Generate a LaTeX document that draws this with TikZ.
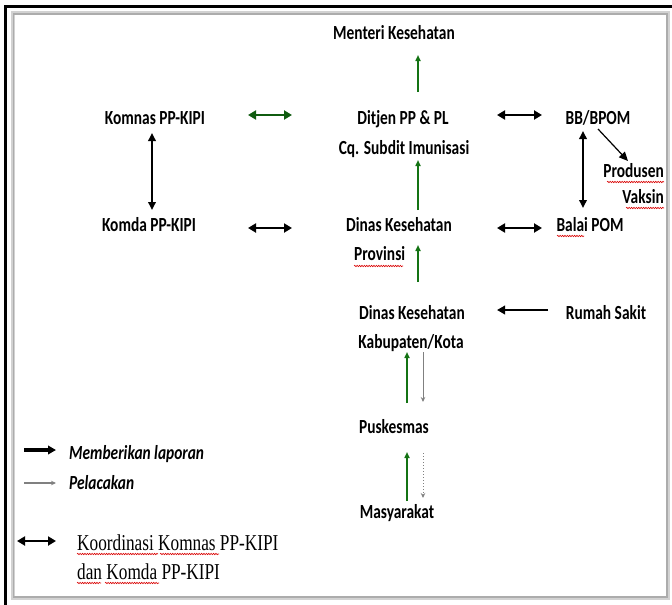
\documentclass[tikz,border=0pt]{standalone}
\usepackage{fontspec}
\setmainfont{Carlito}[FakeStretch=0.77]
\newfontfamily\timesf{Liberation Serif}[FakeStretch=0.76]
\usetikzlibrary{arrows.meta,decorations.pathmorphing}
\definecolor{arrgreen}{RGB}{20,115,20}
\tikzset{
  lbl/.style={inner sep=0pt, anchor=base, font=\fontsize{20}{24}\selectfont\bfseries},
  lblL/.style={lbl, anchor=base west},
  lblR/.style={lbl, anchor=base east},
  leg/.style={inner sep=0pt, anchor=base west, font=\fontsize{20}{24}\selectfont\bfseries\itshape},
  legT/.style={inner sep=0pt, anchor=base west, font=\fontsize{22.7}{26}\selectfont\timesf},
  greenup/.style={draw=arrgreen, line width=1.6pt, -{Triangle[length=6pt,width=5pt]}},
  grayarr/.style={draw=gray, line width=1pt, -{Stealth[length=5pt,width=4.5pt]}},
  dbl/.style={draw=black, line width=2.8pt, {Triangle[length=8pt,width=9pt]}-{Triangle[length=8pt,width=9pt]}},
  dblg/.style={draw=arrgreen!80!black, line width=2.6pt, {Triangle[length=8pt,width=9pt]}-{Triangle[length=8pt,width=9pt]}},
  vdbl/.style={draw=black, line width=1.8pt, {Triangle[length=8pt,width=7.5pt]}-{Triangle[length=8pt,width=7.5pt]}},
  report/.style={draw=black, line width=2.8pt, -{Triangle[length=8pt,width=8.5pt]}},
  squig/.style={draw=red!85!black, line width=0.6pt, decorate, decoration={snake, amplitude=0.7pt, segment length=2.4pt}}
}
\begin{document}
\begin{tikzpicture}[x=1pt,y={(0pt,-1pt)}]
\useasboundingbox (0,0) rectangle (672,605);
% frame
\draw[gray!35, line width=4pt] (12.5,13) rectangle (668,598);
\draw[gray!65, line width=1.4pt] (13.5,14) rectangle (667,597);
\draw[black, line width=3pt] (5.5,605) -- (5.5,6.5) -- (672,6.5);

% nodes
\node[lbl] (menteri) at (394,39.5) {Menteri Kesehatan};
\node[lbl] (komnas) at (155,124.5) {Komnas PP-KIPI};
\node[lbl] (ditjenA) at (403,124.5) {Ditjen PP \& PL};
\node[lbl] (ditjenB) at (404,154.5) {Cq. Subdit Imunisasi};
\node[lbl] (bbpom) at (598,124.5) {BB/BPOM};
\node[lblR] (produsen) at (664,177.5) {Produsen};
\node[lblR] (vaksin) at (664,203.5) {Vaksin};
\node[lbl] (komda) at (149,231.5) {Komda PP-KIPI};
\node[lbl] (provA) at (399,231.5) {Dinas Kesehatan};
\node[lblL] (provB) at (354,260.5) {Provinsi};
\node[lbl] (balai) at (590,231.5) {Balai POM};
\node[lbl] (kabA) at (412,319.5) {Dinas Kesehatan};
\node[lbl] (kabB) at (411,348.5) {Kabupaten/Kota};
\node[lbl] (rumah) at (606,319.5) {Rumah Sakit};
\node[lbl] (puskesmas) at (394,433.5) {Puskesmas};
\node[lbl] (masyarakat) at (397,518.5) {Masyarakat};

% legend text
\node[leg] (legA) at (69,459.5) {Memberikan laporan};
\node[leg] (legB) at (69,489.5) {Pelacakan};
\node[legT] (legC) at (77,550.5) {Koordinasi Komnas PP-KIPI};
\node[legT] (legD) at (77,579.5) {dan Komda PP-KIPI};

% connector end points
\coordinate (g1s) at (418,92);  \coordinate (g1e) at (418,55);
\coordinate (g2s) at (418,210); \coordinate (g2e) at (418,160);
\coordinate (g3s) at (418,282); \coordinate (g3e) at (418,245);
\coordinate (g4s) at (407,403); \coordinate (g4e) at (407,352);
\coordinate (g5s) at (407,501); \coordinate (g5e) at (407,452);
\coordinate (p1s) at (423,352); \coordinate (p1e) at (423,402);
\coordinate (p2s) at (423,453); \coordinate (p2e) at (423,498);
\coordinate (h1s) at (248,115); \coordinate (h1e) at (292,115);
\coordinate (h2s) at (497,115); \coordinate (h2e) at (542,115);
\coordinate (h3s) at (248,228); \coordinate (h3e) at (292,228);
\coordinate (h4s) at (497,228); \coordinate (h4e) at (542,228);
\coordinate (v1s) at (152,133); \coordinate (v1e) at (152,210);
\coordinate (v2s) at (583,131); \coordinate (v2e) at (583,208);
\coordinate (bps) at (598,129); \coordinate (bpe) at (628,161);
\coordinate (rss) at (548,310); \coordinate (rse) at (497,310);
\coordinate (l1s) at (24,450);  \coordinate (l1e) at (56,450);
\coordinate (l2s) at (24,483);  \coordinate (l2e) at (56,483);
\coordinate (l3s) at (17,541);  \coordinate (l3e) at (56,541);

% connectors
\draw[greenup] (g1s) -- (g1e);
\draw[greenup] (g2s) -- (g2e);
\draw[greenup] (g3s) -- (g3e);
\draw[greenup] (g4s) -- (g4e);
\draw[greenup] (g5s) -- (g5e);
\draw[grayarr] (p1s) -- (p1e);
\draw[grayarr, dotted] (p2s) -- (p2e);
\draw[dblg] (h1s) -- (h1e);
\draw[dbl] (h2s) -- (h2e);
\draw[dbl] (h3s) -- (h3e);
\draw[dbl] (h4s) -- (h4e);
\draw[vdbl] (v1s) -- (v1e);
\draw[vdbl] (v2s) -- (v2e);
\draw[draw=black, line width=1.2pt, -{Triangle[length=9pt,width=8pt]}] (bps) -- (bpe);
\draw[report] (rss) -- (rse);
\draw[report, line width=3.2pt] (l1s) -- (l1e);
\draw[grayarr, line width=1.6pt] (l2s) -- (l2e);
\draw[dbl] (l3s) -- (l3e);

% spell-check underlines
\draw[squig] (354,266) -- (403,266);
\draw[squig] (557,236) -- (584,236);
\draw[squig] (607,182) -- (664,182);
\draw[squig] (626,208) -- (664,208);
\draw[squig] (77,554) -- (158,554);
\draw[squig] (160,554) -- (219,554);
\draw[squig] (77,583) -- (101,583);
\draw[squig] (105,583) -- (159,583);
\end{tikzpicture}
\end{document}
